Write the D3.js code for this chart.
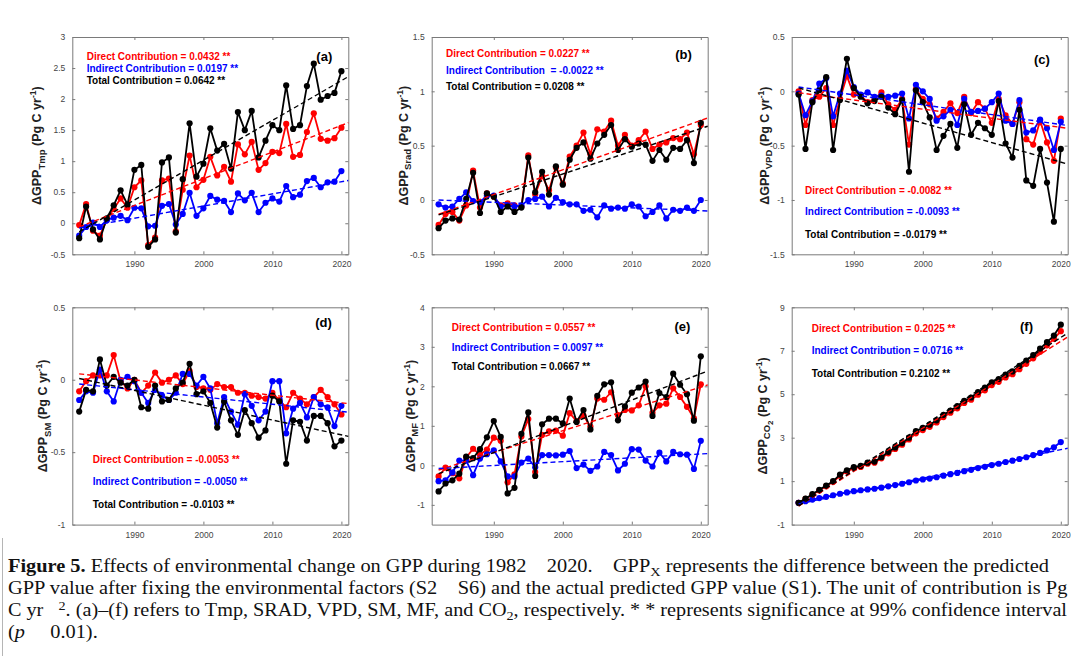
<!DOCTYPE html>
<html>
<head>
<meta charset="utf-8">
<script src="https://cdn.jsdelivr.net/npm/d3@7"></script>
<style>
body { margin: 0; background: #fff; }
text { white-space: pre; }
</style>
</head>
<body>
<script>
// years on the x axis
var years = [1982,1983,1984,1985,1986,1987,1988,1989,1990,1991,1992,1993,1994,1995,1996,1997,1998,1999,2000,
             2001,2002,2003,2004,2005,2006,2007,2008,2009,2010,2011,2012,2013,2014,2015,2016,2017,2018,2019,2020];
var xTicks = [1990, 2000, 2010, 2020];

// (a) Tmp
var tmpDirect   = [-0.03,0.31,-0.12,-0.20,0.06,0.23,0.40,0.25,0.58,0.69,-0.35,-0.23,0.69,0.72,-0.13,0.54,1.09,0.58,0.70,
                   1.07,0.77,0.91,0.67,1.27,1.11,1.31,0.86,0.97,1.15,1.13,1.60,1.07,1.10,1.47,1.77,1.36,1.33,1.37,1.54];
var tmpIndirect = [-0.20,-0.06,0.01,-0.06,0.05,0.09,0.12,0.05,0.25,0.24,-0.05,-0.04,0.28,0.31,-0.02,0.15,0.49,0.12,0.24,
                   0.44,0.38,0.36,0.18,0.48,0.37,0.49,0.18,0.33,0.40,0.35,0.60,0.42,0.46,0.68,0.73,0.58,0.66,0.67,0.84];
var tmpTotal    = [-0.24,0.27,-0.10,-0.26,0.08,0.29,0.53,0.30,0.86,0.94,-0.38,-0.26,0.98,1.06,-0.15,0.71,1.61,0.75,0.96,
                   1.53,1.17,1.28,0.88,1.79,1.50,1.81,1.06,1.33,1.58,1.50,2.22,1.52,1.58,2.21,2.57,1.99,2.05,2.10,2.45];

// (b) Srad
var sradDirect   = [-0.23,-0.13,-0.11,-0.19,-0.05,0.27,-0.07,0.06,0.03,-0.05,-0.03,-0.05,-0.06,0.41,0.05,0.22,0.09,0.30,0.15,
                    0.40,0.50,0.62,0.42,0.65,0.63,0.73,0.50,0.60,0.50,0.55,0.63,0.47,0.51,0.53,0.57,0.56,0.62,0.42,0.69];
var sradIndirect = [-0.04,-0.07,-0.06,0.01,0.07,-0.01,-0.02,0.04,0.04,-0.06,-0.05,-0.06,-0.05,0.00,0.01,0.03,-0.06,0.02,-0.02,
                    -0.04,-0.04,-0.10,-0.09,-0.16,-0.05,-0.08,-0.07,-0.08,-0.04,-0.06,-0.15,-0.11,-0.05,-0.17,-0.09,-0.10,-0.07,-0.10,0.00];
var sradTotal    = [-0.26,-0.19,-0.17,-0.18,0.01,0.25,-0.12,0.06,0.03,-0.11,-0.06,-0.11,-0.07,0.39,0.07,0.26,0.05,0.31,0.14,
                    0.37,0.48,0.53,0.38,0.52,0.60,0.69,0.46,0.56,0.49,0.52,0.51,0.36,0.46,0.37,0.48,0.47,0.55,0.34,0.71];

// (c) VPD
var vpdDirect   = [0.00,-0.31,-0.08,-0.05,0.03,-0.31,-0.07,0.14,-0.03,-0.04,-0.10,-0.07,-0.01,-0.12,-0.17,-0.07,-0.49,0.02,-0.07,
                   -0.12,-0.25,-0.19,-0.11,-0.20,-0.05,-0.20,-0.10,-0.16,-0.29,-0.07,-0.22,-0.30,-0.10,-0.44,-0.49,-0.27,-0.47,-0.64,-0.25];
var vpdIndirect = [-0.02,-0.22,-0.09,0.07,0.12,-0.23,-0.02,0.19,0.04,-0.03,-0.01,-0.05,-0.04,-0.05,-0.04,-0.02,-0.25,0.06,0.00,
                   -0.07,-0.27,-0.23,-0.17,-0.31,-0.07,-0.19,-0.18,-0.16,-0.10,-0.02,-0.27,-0.30,-0.08,-0.38,-0.36,-0.26,-0.34,-0.54,-0.28];
var vpdTotal    = [-0.03,-0.53,-0.10,0.01,0.13,-0.54,-0.08,0.30,0.03,-0.05,-0.11,-0.09,-0.05,-0.15,-0.21,-0.08,-0.74,0.01,-0.10,
                   -0.24,-0.54,-0.41,-0.30,-0.52,-0.12,-0.40,-0.29,-0.34,-0.40,-0.09,-0.48,-0.61,-0.17,-0.82,-0.87,-0.53,-0.84,-1.20,-0.53];

// (d) SM
var smDirect   = [-0.08,-0.01,0.03,0.03,0.03,0.17,-0.01,-0.06,0.00,-0.09,-0.04,0.05,-0.02,0.00,0.03,-0.03,0.06,-0.05,-0.06,
                  -0.07,-0.03,-0.05,-0.05,-0.09,-0.09,-0.11,-0.12,-0.13,-0.09,-0.14,-0.19,-0.09,-0.13,-0.17,-0.12,-0.07,-0.12,-0.17,-0.24];
var smIndirect = [-0.14,-0.08,-0.09,0.07,-0.08,-0.15,0.00,0.02,-0.01,-0.09,-0.16,-0.07,-0.11,-0.14,-0.09,0.04,0.04,-0.04,0.02,
                  -0.06,-0.30,-0.12,-0.22,-0.31,-0.10,-0.18,-0.28,-0.22,-0.01,-0.01,-0.37,-0.20,-0.16,-0.26,-0.12,-0.17,-0.19,-0.32,-0.18];
var smTotal    = [-0.22,-0.07,-0.08,0.14,-0.04,0.02,-0.02,-0.04,0.00,-0.19,-0.20,-0.04,-0.15,-0.14,-0.06,-0.02,0.11,-0.10,-0.08,
                  -0.16,-0.33,-0.15,-0.28,-0.38,-0.21,-0.30,-0.40,-0.35,-0.11,-0.15,-0.58,-0.28,-0.29,-0.42,-0.25,-0.25,-0.30,-0.46,-0.42];

// (e) MF
var mfDirect   = [-0.28,-0.06,-0.20,-0.33,0.20,0.42,0.27,0.40,0.70,0.62,-0.43,-0.23,0.73,1.17,-0.17,0.77,0.86,0.88,0.75,
                  1.32,1.12,1.26,0.98,1.69,1.66,1.85,1.27,1.40,1.39,1.52,2.00,1.33,1.52,1.56,1.95,1.73,1.48,1.19,2.05];
var mfIndirect = [-0.40,-0.38,-0.18,0.12,0.12,-0.25,0.17,0.28,0.38,0.10,-0.28,-0.28,0.07,0.17,-0.05,0.26,0.26,0.25,0.27,
                  0.36,-0.07,0.02,-0.14,-0.03,0.34,0.26,-0.13,0.04,0.41,0.40,0.12,-0.03,0.32,0.10,0.34,0.28,0.27,-0.09,0.62];
var mfTotal    = [-0.66,-0.46,-0.38,-0.21,0.22,0.18,0.41,0.71,1.12,0.72,-0.71,-0.57,0.80,1.34,-0.27,1.04,1.18,1.18,1.06,
                  1.69,1.10,1.40,0.91,1.76,2.05,2.10,1.14,1.49,1.84,1.97,2.12,1.25,1.83,1.73,2.32,2.04,1.80,1.13,2.76];

// (f) CO2
var co2Direct   = [0.00,0.18,0.37,0.57,0.77,0.97,1.25,1.45,1.60,1.65,1.80,1.85,2.05,2.28,2.48,2.68,2.92,3.20,3.35,
                   3.50,3.70,3.95,4.15,4.35,4.60,4.75,4.98,5.18,5.42,5.57,5.77,5.92,6.15,6.40,6.65,6.95,7.25,7.55,7.90];
var co2Indirect = [0.00,0.08,0.15,0.22,0.28,0.35,0.42,0.48,0.54,0.58,0.62,0.65,0.70,0.76,0.82,0.88,0.95,1.03,1.08,
                   1.12,1.18,1.25,1.32,1.38,1.46,1.52,1.60,1.66,1.74,1.80,1.88,1.94,2.02,2.10,2.20,2.30,2.42,2.56,2.80];
var co2Total    = [0.00,0.20,0.40,0.60,0.80,1.00,1.30,1.50,1.65,1.70,1.85,1.90,2.10,2.35,2.55,2.75,3.00,3.30,3.45,
                   3.60,3.80,4.05,4.25,4.45,4.70,4.85,5.10,5.30,5.55,5.70,5.90,6.05,6.30,6.55,6.80,7.10,7.40,7.70,8.20];

// panel labels, axes and printed contributions
var letters   = ["(a)", "(b)", "(c)", "(d)", "(e)", "(f)"];
var factors   = ["Tmp", "Srad", "VPD", "SM", "MF", "CO2"];
var yDomains  = [[-0.5, 3], [-0.5, 1.5], [-1.5, 0.5], [-1, 0.5], [-1.5, 4], [-1, 9]];
var yTickVals = [[-0.5,0,0.5,1,1.5,2,2.5,3], [-0.5,0,0.5,1,1.5], [-1.5,-1,-0.5,0,0.5], [-1,-0.5,0,0.5], [-1,0,1,2,3,4], [-1,1,3,5,7,9]];
var directTxt   = ["0.0432", "0.0227", "-0.0082", "-0.0053", "0.0557", "0.2025"];
var indirectTxt = ["0.0197", "-0.0022", "-0.0093", "-0.0050", "0.0097", "0.0716"];
var totalTxt    = ["0.0642", "0.0208", "-0.0179", "-0.0103", "0.0667", "0.2102"];

var seriesByPanel = [
    [tmpDirect, tmpIndirect, tmpTotal],
    [sradDirect, sradIndirect, sradTotal],
    [vpdDirect, vpdIndirect, vpdTotal],
    [smDirect, smIndirect, smTotal],
    [mfDirect, mfIndirect, mfTotal],
    [co2Direct, co2Indirect, co2Total]
];

////////////////////////////
// layout
var width = 1083, height = 662;
var colLeft = [72.3, 431.7, 791.7], rowTop = [37, 307.3];
var pw = 276, ph = 217.3;
var colors = ["#ff0000", "#0000ff", "#000000"];
// text placement inside each panel (relative to the plot box)
var annX     = [14.4, 14.3, 13.3, 20.4, 20, 20];
var annY     = [[22.5,34.8,46.8], [19.8,36.5,52.5], [156.5,178.2,200.8], [156.2,177.9,200.5], [23.5,43.5,62.9], [25.2,47.2,69.5]];
var letterXY = [[252,24], [251.8,22], [250.3,27], [251.2,20.2], [250.8,24.2], [234.8,24]];
var ylabOff  = [31, 24, 23, 25, 17, 25];

var svg = d3.select("body").append("svg")
    .attr("width", width)
    .attr("height", height)
    .style("font-family", "'Liberation Sans', Arial, sans-serif");

svg.append("rect").attr("width", width).attr("height", height).attr("fill", "#fff");

// thin frame line on the left of the caption
svg.append("line")
    .attr("x1", 2.5).attr("x2", 2.5).attr("y1", 538).attr("y2", 656)
    .attr("stroke", "#b5b5b5").attr("stroke-width", 1);

// least squares fit, used for the dashed trend lines
function fit(xs, ys) {
    var mx = d3.mean(xs), my = d3.mean(ys);
    var sxy = d3.sum(xs, function(x, i) { return (x - mx) * (ys[i] - my); });
    var sxx = d3.sum(xs, function(x) { return (x - mx) * (x - mx); });
    var b = sxy / sxx;
    return function(x) { return my + b * (x - mx); };
}

var fmt = function(d) { return String(d); };

seriesByPanel.forEach(function(series, i) {
    var g = svg.append("g")
        .attr("transform", "translate(" + colLeft[i % 3] + "," + rowTop[Math.floor(i / 3)] + ")");

    var x = d3.scaleLinear().domain([1981, 2021]).range([0, pw]);
    var y = d3.scaleLinear().domain(yDomains[i]).range([ph, 0]);

    // axes, ticks pointing inward on all four sides
    var axB = g.append("g").attr("transform", "translate(0," + ph + ")")
        .call(d3.axisBottom(x).tickValues(xTicks).tickFormat(d3.format("d")).tickSizeInner(-3).tickSizeOuter(0).tickPadding(7));
    var axT = g.append("g")
        .call(d3.axisTop(x).tickValues(xTicks).tickFormat("").tickSizeInner(-3).tickSizeOuter(0));
    var axL = g.append("g")
        .call(d3.axisLeft(y).tickValues(yTickVals[i]).tickFormat(fmt).tickSizeInner(-3).tickSizeOuter(0).tickPadding(7));
    var axR = g.append("g").attr("transform", "translate(" + pw + ",0)")
        .call(d3.axisRight(y).tickValues(yTickVals[i]).tickFormat("").tickSizeInner(-3).tickSizeOuter(0));

    [axB, axT, axL, axR].forEach(function(ax) {
        ax.select(".domain").attr("stroke", "#7a7a7a");
        ax.selectAll(".tick line").attr("stroke", "#7a7a7a");
        ax.selectAll(".tick text").attr("fill", "#444").attr("font-size", "8.5px")
            .attr("font-family", "'Liberation Sans', Arial, sans-serif");
    });

    // series lines and markers
    var line = d3.line()
        .x(function(d, k) { return x(years[k]); })
        .y(function(d) { return y(d); });

    series.forEach(function(vals, s) {
        g.append("path")
            .datum(vals)
            .attr("d", line)
            .attr("fill", "none")
            .attr("stroke", colors[s])
            .attr("stroke-width", 1.8)
            .attr("stroke-linejoin", "round");
        g.selectAll(".dot" + s)
            .data(vals)
            .enter()
            .append("circle")
            .attr("cx", function(d, k) { return x(years[k]); })
            .attr("cy", function(d) { return y(d); })
            .attr("r", 3.1)
            .attr("fill", colors[s]);
    });

    // dashed trend lines
    series.forEach(function(vals, s) {
        var f = fit(years, vals);
        g.append("line")
            .attr("x1", x(1982)).attr("y1", y(f(1982)))
            .attr("x2", x(2021)).attr("y2", y(f(2021)))
            .attr("stroke", colors[s])
            .attr("stroke-width", 1.4)
            .attr("stroke-dasharray", "5,3");
    });

    // contribution texts
    var texts = [
        "Direct Contribution = " + directTxt[i] + " **",
        (i == 1 ? "Indirect Contribution  = " : "Indirect Contribution = ") + indirectTxt[i] + " **",
        "Total Contribution = " + totalTxt[i] + " **"
    ];
    texts.forEach(function(t, s) {
        g.append("text")
            .attr("x", annX[i])
            .attr("y", annY[i][s])
            .attr("fill", colors[s])
            .attr("font-size", "10px")
            .attr("font-weight", "bold")
            .text(t);
    });

    // panel letter
    g.append("text")
        .attr("x", letterXY[i][0])
        .attr("y", letterXY[i][1])
        .attr("text-anchor", "middle")
        .attr("font-size", "13px")
        .attr("font-weight", "bold")
        .text(letters[i]);

    // y label
    var yl = g.append("text")
        .attr("transform", "translate(" + (-ylabOff[i]) + "," + (ph / 2) + ") rotate(-90)")
        .attr("text-anchor", "middle")
        .attr("font-size", "12.5px")
        .attr("font-weight", "bold")
        .attr("fill", "#222");
    yl.append("tspan").text("\u0394GPP");
    if (factors[i] == "CO2") {
        yl.append("tspan").attr("dy", 3.5).attr("font-size", "9.5px").text("CO");
        yl.append("tspan").attr("dy", 2.5).attr("font-size", "8px").text("2");
        yl.append("tspan").attr("dy", -6).text(" (Pg C yr");
    } else {
        yl.append("tspan").attr("dy", 3.5).attr("font-size", "9.5px").text(factors[i]);
        yl.append("tspan").attr("dy", -3.5).text(" (Pg C yr");
    }
    yl.append("tspan").attr("dy", -5).attr("font-size", "8.5px").text("-1");
    yl.append("tspan").attr("dy", 5).text(")");
});

////////////////////////////
// caption
var capX = 8;
var capY = [572, 594, 616, 638];
var capW = [1042, 1060, 1060, null];
var cap = svg.append("g")
    .style("font-family", "'Liberation Serif', 'Times New Roman', serif")
    .style("font-size", "18.5px")
    .attr("fill", "#111");

var lines = [];
var l1 = cap.append("text").attr("x", capX).attr("y", capY[0]);
l1.append("tspan").attr("font-weight", "bold").text("Figure 5.");
l1.append("tspan").text(" Effects of environmental change on GPP during 1982    2020.    GPP");
l1.append("tspan").attr("dy", 4).attr("font-size", "13px").text("X");
l1.append("tspan").attr("dy", -4).text(" represents the difference between the predicted");
lines.push(l1);

var l2 = cap.append("text").attr("x", capX).attr("y", capY[1])
    .text("GPP value after fixing the environmental factors (S2    S6) and the actual predicted GPP value (S1). The unit of contribution is Pg");
lines.push(l2);

var l3 = cap.append("text").attr("x", capX).attr("y", capY[2]);
l3.append("tspan").text("C yr   ");
l3.append("tspan").attr("dy", -6).attr("font-size", "13px").text("2");
l3.append("tspan").attr("dy", 6).text(". (a)\u2013(f) refers to Tmp, SRAD, VPD, SM, MF, and CO");
l3.append("tspan").attr("dy", 4).attr("font-size", "13px").text("2");
l3.append("tspan").attr("dy", -4).text(", respectively. * * represents significance at 99% confidence interval");
lines.push(l3);

var l4 = cap.append("text").attr("x", capX).attr("y", capY[3]);
l4.append("tspan").text("(");
l4.append("tspan").attr("font-style", "italic").text("p");
l4.append("tspan").text("     0.01).");
lines.push(l4);

// squeeze/stretch the caption lines to the widths in the figure
var scales = [];
lines.forEach(function(t, k) {
    if (capW[k]) {
        var w = t.node().getComputedTextLength();
        scales.push(capW[k] / w);
    }
});
var sAvg = d3.mean(scales);
lines.forEach(function(t, k) {
    var s = capW[k] ? scales[k] : sAvg;
    t.attr("transform", "translate(" + capX + ",0) scale(" + s + ",1) translate(" + (-capX) + ",0)");
});
</script>
</body>
</html>
